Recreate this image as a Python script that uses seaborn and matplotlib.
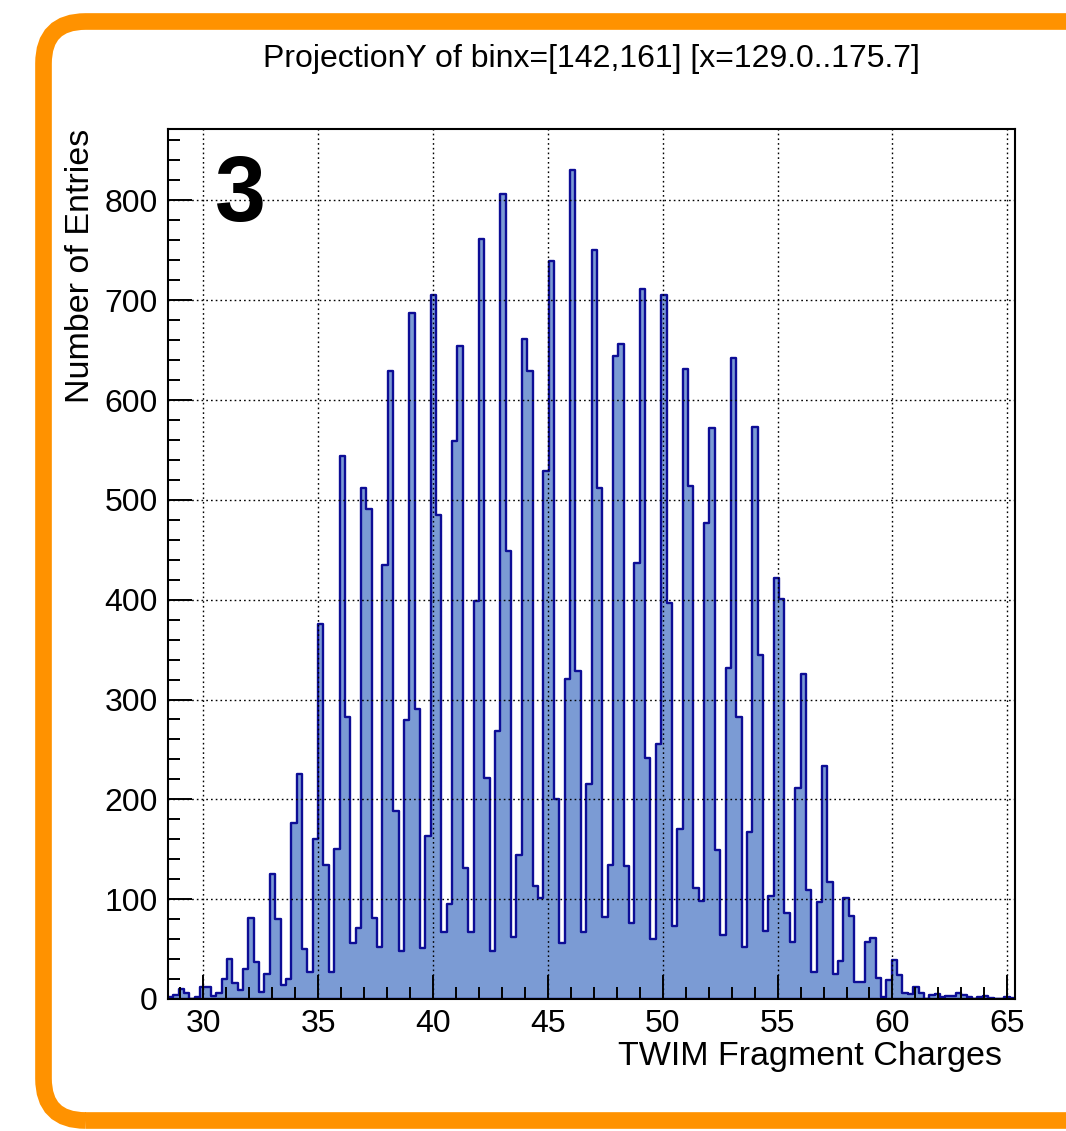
import numpy as np
import pandas as pd
import matplotlib
matplotlib.use("Agg")
import matplotlib.pyplot as plt
import seaborn as sns
from matplotlib.patches import FancyBboxPatch
from matplotlib.ticker import MultipleLocator

# Charge axis binning: 300 bins over [0, 70]; the displayed window starts at bin 122
BIN_WIDTH = 70 / 300
FIRST_BIN = 122

# Entries per bin, left to right
counts_rise = [2, 4, 10, 6, 0, 2, 12, 12, 3, 6,
               20, 40, 16, 9, 30, 81, 37, 7, 25, 125,
               80, 14, 20, 176, 225, 50, 27, 160, 376, 134,
               27, 150, 544, 282, 56, 71, 512, 491, 81, 52]
counts_core = [435, 629, 188, 48, 279, 687, 290, 51, 163, 705,
               485, 67, 95, 559, 654, 131, 67, 399, 761, 221,
               48, 268, 806, 449, 62, 144, 661, 629, 113, 101,
               529, 739, 200, 56, 321, 830, 329, 67, 215, 750,
               512, 82, 134, 644, 656, 133, 76, 437, 711, 241]
counts_fall = [60, 255, 705, 397, 73, 170, 631, 514, 111, 98,
               477, 572, 149, 64, 332, 642, 282, 52, 167, 573,
               345, 68, 103, 422, 401, 86, 57, 211, 326, 109,
               27, 97, 233, 117, 25, 38, 101, 83, 17, 17]
counts_tail = [57, 61, 21, 2, 19, 39, 24, 6, 5, 12,
               6, 0, 4, 5, 2, 3, 3, 6, 4, 2,
               0, 2, 3, 1, 0, 0, 2, 1]

title = "ProjectionY of binx=[142,161] [x=129.0..175.7]"
x_label = "TWIM Fragment Charges"
y_label = "Number of Entries"
panel_tag = "3"

counts = np.array(counts_rise + counts_core + counts_fall + counts_tail, dtype=float)
edges = (FIRST_BIN + np.arange(len(counts) + 1)) * BIN_WIDTH
centers = 0.5 * (edges[:-1] + edges[1:])
df = pd.DataFrame({"charge": centers, "entries": counts})

sns.set_style("ticks")
plt.rcParams["font.family"] = ["Liberation Sans", "DejaVu Sans"]
plt.rcParams.update({"text.color": "black", "axes.labelcolor": "black",
                     "xtick.color": "black", "ytick.color": "black"})

fig = plt.figure(figsize=(10.66, 11.31), dpi=100)
ax = fig.add_axes([168 / 1066, 1 - 999 / 1131, (1015 - 168) / 1066, (999 - 129) / 1131])

fill_col = "#7b9bd4"
edge_col = "#0d0d96"
sns.histplot(data=df, x="charge", weights="entries",
             binwidth=BIN_WIDTH, binrange=(float(edges[0]), float(edges[-1])),
             element="step", fill=True, color=fill_col, alpha=1.0,
             edgecolor=edge_col, linewidth=1.7, ax=ax)

ax.set_xlim(edges[0], edges[-1])
ax.set_ylim(0, counts.max() * 1.05)

# ROOT-like axes: inward ticks, dotted grid at major ticks
ax.xaxis.set_major_locator(MultipleLocator(5))
ax.xaxis.set_minor_locator(MultipleLocator(1))
ax.yaxis.set_major_locator(MultipleLocator(100))
ax.yaxis.set_minor_locator(MultipleLocator(20))
ax.tick_params(axis="both", which="major", direction="in", length=17.5, width=1.4,
               labelsize=23, colors="black", pad=7.5)
ax.tick_params(axis="both", which="minor", direction="in", length=8.8, width=1.4)
ax.tick_params(top=False, right=False, which="both")
ax.grid(True, which="major", color="black", linestyle=(0, (1.2, 2.2)), linewidth=1.0)
ax.set_axisbelow(False)
for s in ax.spines.values():
    s.set_visible(True)
    s.set_linewidth(1.5)
    s.set_color("black")

ax.set_xlabel(x_label, fontsize=24.5, loc="right")
ax.xaxis.set_label_coords((1002 - 168) / 847, -(1041 - 999) / 870)
ax.set_ylabel(y_label, fontsize=24.5, loc="top")
ax.yaxis.set_label_coords(-(168 - 96) / 847, 1.0)

fig.text(591 / 1066, 1 - 59 / 1131, title, fontsize=23, ha="center", va="center")
ax.text((240 - 168) / 847, (999 - 197) / 870, panel_tag, transform=ax.transAxes,
        fontsize=66, fontweight="bold", ha="center", va="center")

# Rounded orange frame around the panel
frame = FancyBboxPatch((0.435, 0.105), 11.3 - 0.435, 11.095 - 0.105,
                       boxstyle="round,pad=0,rounding_size=0.42",
                       transform=fig.dpi_scale_trans, facecolor="none",
                       edgecolor="#ff9200", linewidth=12, clip_on=False)
fig.add_artist(frame)

fig.savefig("out.png", dpi=100, facecolor="white")
